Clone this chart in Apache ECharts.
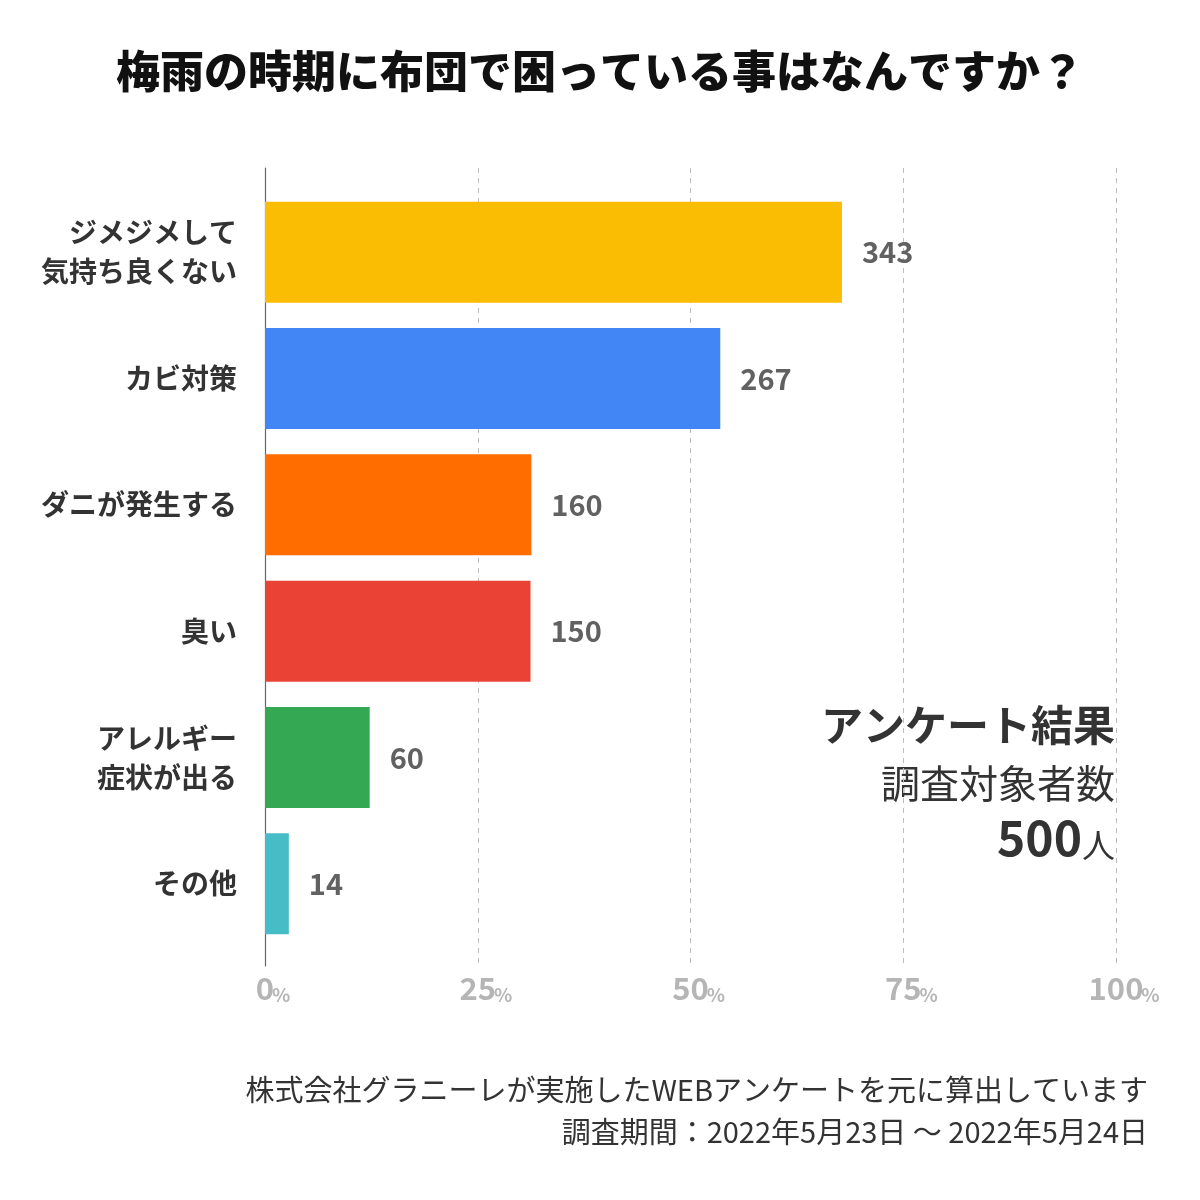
<!DOCTYPE html>
<html>
<head>
<meta charset="utf-8">
<script src="https://cdn.jsdelivr.net/npm/echarts@6/dist/echarts.min.js"></script>
<style>
html,body{margin:0;padding:0;background:#fff;}
#chart{width:1200px;height:1200px;}
</style>
</head>
<body>
<div id="chart"></div>
<script>
// ---- data ----
var titleText = '梅雨の時期に布団で困っている事はなんですか？';
var categories = ['ジメジメして\n気持ち良くない', 'カビ対策', 'ダニが発生する', '臭い', 'アレルギー\n症状が出る', 'その他'];
var counts = [343, 267, 160, 150, 60, 14];
var barPercent = [67.8, 53.5, 31.3, 31.2, 12.3, 2.8];
var barColors = ['#FBBC04', '#4285F4', '#FF6D01', '#EA4335', '#34A853', '#46BDC6'];
var xTicks = [0, 25, 50, 75, 100];
var noteTitle = 'アンケート結果';
var noteSub = '調査対象者数';
var noteTotal = '500';
var noteUnit = '人';
var footer1 = '株式会社グラニーレが実施したWEBアンケートを元に算出しています';
var footer2 = '調査期間：2022年5月23日 〜 2022年5月24日';

var FONT = '"Noto Sans CJK JP", "Noto Sans", sans-serif';

var chart = echarts.init(document.getElementById('chart'), null, {renderer: 'canvas'});

var barData = barPercent.map(function (v, i) {
  return {value: v, itemStyle: {color: barColors[i]}};
});

var option = {
  backgroundColor: '#ffffff',
  animation: false,
  title: {
    text: titleText,
    left: 'center',
    top: 44,
    textStyle: {fontFamily: FONT, fontSize: 44, fontWeight: 900, color: '#111111'}
  },
  grid: [
    {left: 265, right: 84, top: 189, bottom: 253, containLabel: false},
    {left: 265, right: 84, top: 168, bottom: 234, containLabel: false}
  ],
  xAxis: [
    {
      gridIndex: 0, type: 'value', min: 0, max: 100, interval: 25,
      show: false
    },
    {
      gridIndex: 1, type: 'value', min: 0, max: 100, interval: 25,
      axisLine: {show: false},
      axisTick: {show: false},
      splitLine: {show: true, lineStyle: {color: '#bdbdbd', type: [5, 5], width: 1}},
      axisLabel: {
        margin: 6,
        formatter: function (v) { return '{s|}{n|' + v + '}{p|%}'; },
        rich: {
          s: {width: 14, fontSize: 18},
          n: {fontFamily: FONT, fontSize: 31, fontWeight: 'bold', color: '#b5b5b5', lineHeight: 32, verticalAlign: 'bottom'},
          p: {fontFamily: FONT, fontSize: 19, fontWeight: 'bold', color: '#b5b5b5', width: 14, lineHeight: 26, verticalAlign: 'bottom'}
        }
      }
    }
  ],
  yAxis: [
    {
      gridIndex: 0, type: 'category', data: categories, inverse: true,
      axisLine: {show: false},
      axisTick: {show: false},
      splitLine: {show: false},
      axisLabel: {
        margin: 28,
        fontFamily: FONT, fontSize: 28, fontWeight: 'bold', color: '#333333',
        lineHeight: 39, align: 'right'
      }
    },
    {
      gridIndex: 1, type: 'value', min: 0, max: 1,
      axisLine: {show: true, lineStyle: {color: '#666666', width: 1.2}},
      axisTick: {show: false},
      axisLabel: {show: false},
      splitLine: {show: false}
    }
  ],
  series: [
    {
      type: 'bar',
      xAxisIndex: 0, yAxisIndex: 0,
      data: barData,
      barWidth: 101,
      z: 3,
      label: {
        show: true,
        position: 'right',
        distance: 20,
        formatter: function (p) { return String(counts[p.dataIndex]); },
        fontFamily: FONT, fontSize: 29, fontWeight: 'bold', color: '#616161'
      }
    }
  ],
  graphic: [
    {
      type: 'text', right: 85, top: 704,
      style: {text: noteTitle, font: 'bold 42px ' + FONT, fill: '#333333', textAlign: 'right'}
    },
    {
      type: 'text', right: 85, top: 764,
      style: {text: noteSub, font: '39px ' + FONT, fill: '#333333', textAlign: 'right'}
    },
    {
      type: 'text', right: 85, top: 814,
      style: {
        text: '{a|' + noteTotal + '}{b|' + noteUnit + '}',
        textAlign: 'right',
        rich: {
          a: {font: 'bold 48px ' + FONT, fill: '#333333', verticalAlign: 'bottom', lineHeight: 60},
          b: {font: '33px ' + FONT, fill: '#333333', verticalAlign: 'bottom', lineHeight: 52}
        }
      }
    },
    {
      type: 'text', right: 52, top: 1075,
      style: {text: footer1, font: '29px ' + FONT, fill: '#333333', textAlign: 'right'}
    },
    {
      type: 'text', right: 52, top: 1117,
      style: {text: footer2, font: '29px ' + FONT, fill: '#333333', textAlign: 'right'}
    }
  ]
};

chart.setOption(option);
</script>
</body>
</html>
